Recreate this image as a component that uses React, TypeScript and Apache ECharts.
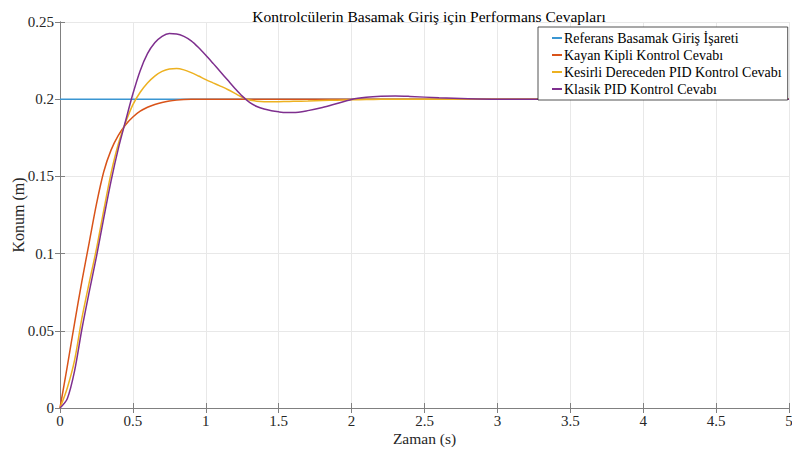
import React, { useEffect, useRef } from "react";
import * as echarts from "echarts";

const titleText = "Kontrolcülerin Basamak Giriş için Performans Cevapları";
const seriesNames = [
  "Referans Basamak Giriş İşareti",
  "Kayan Kipli Kontrol Cevabı",
  "Kesirli Dereceden PID Kontrol Cevabı",
  "Klasik PID Kontrol Cevabı",
];
const times = [
  0, 0.05, 0.1, 0.15, 0.2, 0.25, 0.3, 0.35, 0.4, 0.45, 0.5, 0.55, 0.6, 0.65, 0.7, 0.75, 0.8, 0.85, 0.9, 0.95,
  1.0, 1.05, 1.1, 1.15, 1.2, 1.25, 1.3, 1.35, 1.4, 1.45, 1.5, 1.55, 1.6, 1.7, 1.8, 1.9,
  2.0, 2.1, 2.2, 2.3, 2.4, 2.6, 2.8, 3.0, 3.5, 4.0, 4.5, 5.0,
];
const referans = times.map(() => 0.2);
const kayanKipli = [
  0, 0.027, 0.055, 0.082, 0.107, 0.132, 0.153, 0.167, 0.1765, 0.1835, 0.1885, 0.1922, 0.1948, 0.1966, 0.1979, 0.1988, 0.1994, 0.1998, 0.2, 0.2,
  0.2, 0.2, 0.2, 0.2, 0.2, 0.2, 0.2, 0.2, 0.2, 0.2, 0.2, 0.2, 0.2, 0.2, 0.2, 0.2,
  0.2, 0.2, 0.2, 0.2, 0.2, 0.2, 0.2, 0.2, 0.2, 0.2, 0.2, 0.2,
];
const kesirliPID = [
  0, 0.013, 0.031, 0.058, 0.081, 0.103, 0.128, 0.152, 0.171, 0.185, 0.1965, 0.2045, 0.2105, 0.215, 0.218, 0.2196, 0.2199, 0.219, 0.2172, 0.215,
  0.2127, 0.2106, 0.2085, 0.2063, 0.2038, 0.2012, 0.1995, 0.1987, 0.1984, 0.1984, 0.1984, 0.1985, 0.1986, 0.1988, 0.1991, 0.1994,
  0.1996, 0.1998, 0.1999, 0.2, 0.2, 0.2, 0.2, 0.2, 0.2, 0.2, 0.2, 0.2,
];
const klasikPID = [
  0, 0.006, 0.024, 0.051, 0.075, 0.098, 0.123, 0.147, 0.168, 0.186, 0.2035, 0.2185, 0.2295, 0.2365, 0.2407, 0.2425, 0.2423, 0.2407, 0.2378, 0.2335,
  0.2285, 0.2232, 0.2178, 0.2124, 0.207, 0.202, 0.198, 0.1953, 0.1936, 0.1925, 0.1918, 0.1914, 0.1914, 0.1926, 0.1946, 0.1972,
  0.1998, 0.2012, 0.2019, 0.2021, 0.2018, 0.2009, 0.2003, 0.2, 0.2, 0.2, 0.2, 0.2,
];

const colors = ["#3a96d2", "#d95319", "#edb120", "#7e2f8e"];
const FONT = "Liberation Serif";

export default function App() {
  const ref = useRef<HTMLDivElement>(null);
  useEffect(() => {
    if (!ref.current) return;
    const chart = echarts.init(ref.current, null, { renderer: "svg" });
    const allData = [referans, kayanKipli, kesirliPID, klasikPID];
    const axisCommon = {
      type: "value" as const,
      axisLine: { show: true, lineStyle: { color: "#808080", width: 1 } },
      axisTick: { show: true, inside: true, length: 5, lineStyle: { color: "#808080" } },
    };
    chart.setOption({
      animation: false,
      backgroundColor: "#ffffff",
      title: {
        text: titleText,
        left: 424,
        textAlign: "center",
        top: 3,
        textStyle: { fontFamily: FONT, fontSize: 15.5, fontWeight: "normal", color: "#000" },
      },
      legend: {
        orient: "vertical",
        left: 538,
        top: 27,
        padding: [4, 6, 4, 14],
        itemGap: 3,
        itemWidth: 10,
        itemHeight: 2,
        icon: "rect",
        backgroundColor: "#fff",
        borderColor: "#262626",
        borderWidth: 0.8,
        borderRadius: 0,
        textStyle: { fontFamily: FONT, fontSize: 14, color: "#000", padding: [0, 0, 0, -3] },
        data: seriesNames,
      },
      grid: { left: 60, right: 3, top: 22, bottom: 46, outerBoundsMode: "none", containLabel: false },
      xAxis: [
        {
          ...axisCommon,
          min: 0,
          max: 5,
          interval: 0.5,
          name: "Zaman (s)",
          nameLocation: "middle",
          nameGap: 22,
          nameMoveOverlap: false,
          nameTextStyle: { fontFamily: FONT, fontSize: 15.5, color: "#262626" },
          axisLabel: { fontFamily: FONT, fontSize: 15, color: "#262626", margin: 5 },
          splitLine: { show: true, lineStyle: { color: "#e8e8e8", width: 1 } },
        },
        {
          ...axisCommon,
          position: "top",
          min: 0,
          max: 5,
          interval: 0.5,
          axisLabel: { show: false },
          splitLine: { show: false },
        },
      ],
      yAxis: [
        {
          ...axisCommon,
          min: 0,
          max: 0.25,
          interval: 0.05,
          name: "Konum (m)",
          nameLocation: "middle",
          nameGap: 34,
          nameMoveOverlap: false,
          nameTextStyle: { fontFamily: FONT, fontSize: 16, color: "#262626" },
          axisLabel: { fontFamily: FONT, fontSize: 15, color: "#262626", margin: 6 },
          splitLine: { show: true, lineStyle: { color: "#e8e8e8", width: 1 } },
        },
        {
          ...axisCommon,
          position: "right",
          min: 0,
          max: 0.25,
          interval: 0.05,
          axisLabel: { show: false },
          splitLine: { show: false },
        },
      ],
      series: seriesNames.map((name, i) => ({
        name,
        type: "line",
        xAxisIndex: 0,
        yAxisIndex: 0,
        showSymbol: false,
        symbol: "none",
        smooth: 0.3,
        lineStyle: { color: colors[i], width: 1.5 },
        itemStyle: { color: colors[i] },
        data: times.map((t, k) => [t, allData[i][k]]),
      })),
    });
    return () => chart.dispose();
  }, []);
  return (
    <div
      ref={ref}
      style={{ position: "fixed", left: 0, top: 0, width: 792, height: 454 }}
    />
  );
}
